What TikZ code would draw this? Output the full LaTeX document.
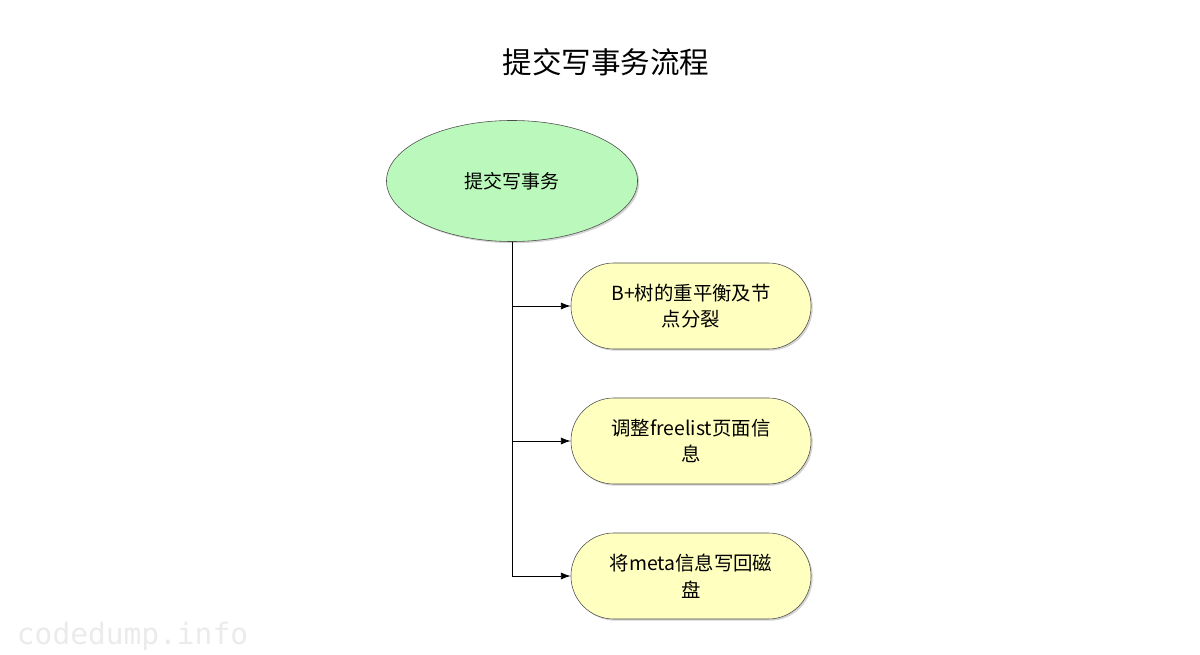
\documentclass[tikz,border=0pt]{standalone}
\usepackage{fontspec}
\setmainfont{Noto Sans CJK SC}
\newfontfamily\markfont{DejaVu Sans Mono}
\usepackage{tikz}
\usetikzlibrary{shapes,arrows,arrows.meta,positioning,shadows}
\definecolor{startgreen}{HTML}{BBF8BB}
\definecolor{taskyellow}{HTML}{FFFFC0}

\begin{document}
\begin{tikzpicture}[x=0.025cm, y=-0.025cm, >={Latex[length=7pt,width=5pt]},
    start/.style={ellipse, draw=black!70, fill=startgreen, minimum width=6.275cm, minimum height=3.025cm, inner sep=0pt,
        font=\fontsize{13.5}{17}\selectfont, drop shadow={shadow xshift=1.2pt, shadow yshift=-1.2pt, opacity=0.35}},
    task/.style={rectangle, rounded corners=1.07cm, draw=black!70, fill=taskyellow, minimum width=6cm, minimum height=2.15cm,
        align=center, font=\fontsize{13.8}{19}\selectfont, drop shadow={shadow xshift=1.2pt, shadow yshift=-1.2pt, opacity=0.35}}
]
\useasboundingbox (0,0) rectangle (1200,655);

\node[font=\fontsize{21}{25}\selectfont] (title) at (606,62) {提交写事务流程};
\node[start] (commit) at (512,181) {提交写事务};
\node[task] (rebalance) at (691,306) {B+树的重平衡及节\\点分裂};
\node[task] (freelist) at (691,441) {调整freelist页面信\\息};
\node[task] (meta) at (691,576) {将meta信息写回磁\\盘};
\node[font=\markfont\fontsize{21}{25}\selectfont, text=black!8, anchor=west] (mark) at (12,636) {codedump.info};

\draw[line width=0.6pt] (commit.south) -- (commit.south |- meta.west);
\draw[->, line width=0.6pt] (commit.south |- rebalance.west) -- (rebalance.west);
\draw[->, line width=0.6pt] (commit.south |- freelist.west) -- (freelist.west);
\draw[->, line width=0.6pt] (commit.south |- meta.west) -- (meta.west);

\end{tikzpicture}
\end{document}
